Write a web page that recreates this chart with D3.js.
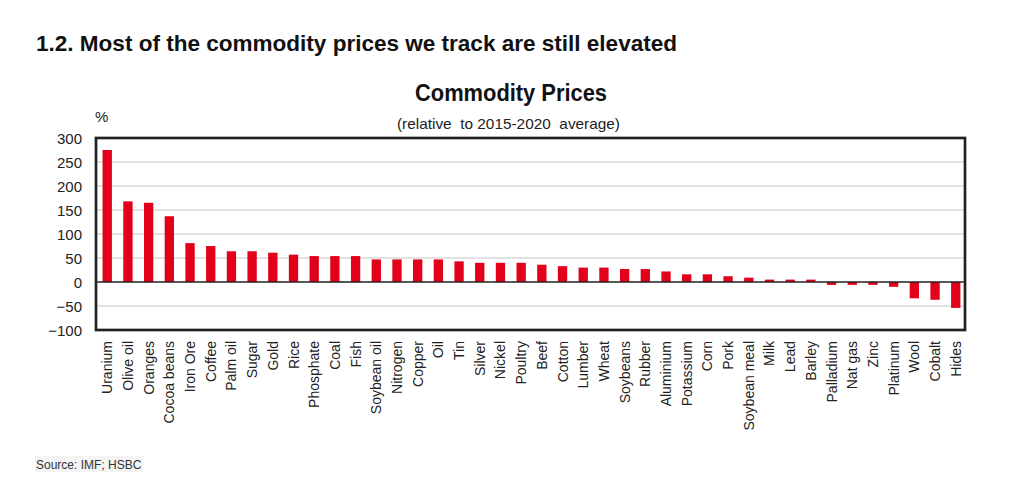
<!DOCTYPE html>
<html>
<head>
<meta charset="utf-8">
<script src="https://cdn.jsdelivr.net/npm/d3@7"></script>
<style>
  body { margin: 0; background: #fff; }
  svg { font-family: "Liberation Sans", Arial, sans-serif; }
  .axis-label { font-size: 15px; fill: #222; }
  .cat-label { font-size: 14px; fill: #222; }
</style>
</head>
<body>
<svg id="chart" width="1024" height="485"></svg>
<script>
const width = 1024;
const height = 485;

// commodities, sorted as in the source
const commodities = ["Uranium", "Olive oil", "Oranges", "Cocoa beans", "Iron Ore", "Coffee",
  "Palm oil", "Sugar", "Gold", "Rice", "Phosphate", "Coal", "Fish", "Soybean oil", "Nitrogen",
  "Copper", "Oil", "Tin", "Silver", "Nickel", "Poultry", "Beef", "Cotton", "Lumber", "Wheat",
  "Soybeans", "Rubber", "Aluminium", "Potassium", "Corn", "Pork", "Soybean meal", "Milk",
  "Lead", "Barley", "Palladium", "Nat gas", "Zinc", "Platinum", "Wool", "Cobalt", "Hides"];

// % relative to 2015-2020 average
const priceChange = [275, 168, 165, 137, 81, 75,
  64, 64, 61, 57, 54, 54, 54, 47, 47,
  47, 47, 43, 40, 40, 40, 36, 33, 30, 30,
  27, 27, 22, 16, 16, 12, 9, 5,
  5, 5, -6, -6, -6, -10, -34, -37, -54];

const yTicks = [-100, -50, 0, 50, 100, 150, 200, 250, 300];

const frame = { left: 96, right: 965, top: 138, bottom: 330 };

let svg = d3.select("svg#chart");

/* TITLES */

svg.append("text")
  .attr("x", 36)
  .attr("y", 51)
  .attr("textLength", 641)
  .attr("lengthAdjust", "spacingAndGlyphs")
  .style("font-size", "22px")
  .style("font-weight", "bold")
  .style("fill", "#111")
  .text("1.2. Most of the commodity prices we track are still elevated");

svg.append("text")
  .attr("x", 415)
  .attr("y", 101)
  .attr("textLength", 192)
  .attr("lengthAdjust", "spacingAndGlyphs")
  .style("font-size", "23px")
  .style("font-weight", "bold")
  .style("fill", "#111")
  .text("Commodity Prices");

svg.append("text")
  .attr("x", 397)
  .attr("y", 129)
  .attr("textLength", 223)
  .attr("lengthAdjust", "spacingAndGlyphs")
  .style("font-size", "15px")
  .style("white-space", "pre")
  .style("fill", "#222")
  .text("(relative  to 2015-2020  average)");

svg.append("text")
  .attr("class", "axis-label")
  .attr("x", 95)
  .attr("y", 122)
  .text("%");

/* SCALES */

let yScale = d3.scaleLinear()
  .domain([-100, 300])
  .range([frame.bottom, frame.top]);

let xScale = d3.scaleBand()
  .domain(commodities)
  .range([frame.left + 1, frame.right + 1])
  .paddingInner(0.55)
  .paddingOuter(0.27);

/* GRID */

const plot = svg.append("g").attr("id", "plot");

plot.append("g")
  .selectAll("line")
  .data(yTicks.filter(d => d !== 0 && d !== 300 && d !== -100))
  .enter()
  .append("line")
    .attr("x1", frame.left)
    .attr("x2", frame.right)
    .attr("y1", d => yScale(d))
    .attr("y2", d => yScale(d))
    .style("stroke", "#d9d9d9")
    .style("stroke-width", 1.5);

/* BARS */

plot.append("g")
  .selectAll("rect")
  .data(commodities.map((c, i) => ({ name: c, value: priceChange[i] })))
  .enter()
  .append("rect")
    .attr("x", d => xScale(d.name))
    .attr("width", xScale.bandwidth())
    .attr("y", d => yScale(Math.max(0, d.value)))
    .attr("height", d => Math.abs(yScale(d.value) - yScale(0)))
    .style("fill", "#e2001a");

// zero line
plot.append("line")
  .attr("x1", frame.left)
  .attr("x2", frame.right)
  .attr("y1", yScale(0))
  .attr("y2", yScale(0))
  .style("stroke", "#222")
  .style("stroke-width", 1.6);

// frame
plot.append("rect")
  .attr("x", frame.left)
  .attr("y", frame.top)
  .attr("width", frame.right - frame.left)
  .attr("height", frame.bottom - frame.top)
  .style("fill", "none")
  .style("stroke", "#666")
  .style("stroke-width", 3);
plot.append("rect")
  .attr("x", frame.left)
  .attr("y", frame.top)
  .attr("width", frame.right - frame.left)
  .attr("height", frame.bottom - frame.top)
  .style("fill", "none")
  .style("stroke", "#1a1a1a")
  .style("stroke-width", 1.8);

/* AXES */

let yAxis = d3.axisLeft(yScale).tickValues(yTicks).tickSize(0).tickPadding(14);
let yGroup = svg.append("g")
  .attr("transform", "translate(" + frame.left + ",0)")
  .call(yAxis);
yGroup.select(".domain").remove();
yGroup.selectAll("text")
  .attr("class", "axis-label")
  .attr("font-family", null)
  .attr("font-size", null)
  .attr("dy", "0.35em");

let xGroup = svg.append("g").attr("id", "x-labels");
xGroup.selectAll("text")
  .data(commodities)
  .enter()
  .append("text")
    .attr("class", "cat-label")
    .attr("text-anchor", "end")
    .attr("transform", d => "translate(" + (xScale(d) + xScale.bandwidth() / 2 + 5) + "," + 341 + ") rotate(-90)")
    .text(d => d);

/* SOURCE */

svg.append("rect")
  .attr("x", 35)
  .attr("y", 456)
  .attr("width", 108)
  .attr("height", 16)
  .style("fill", "#f4f4f4");

svg.append("text")
  .attr("x", 36)
  .attr("y", 469)
  .style("font-size", "12px")
  .style("fill", "#333")
  .text("Source: IMF; HSBC");
</script>
</body>
</html>
